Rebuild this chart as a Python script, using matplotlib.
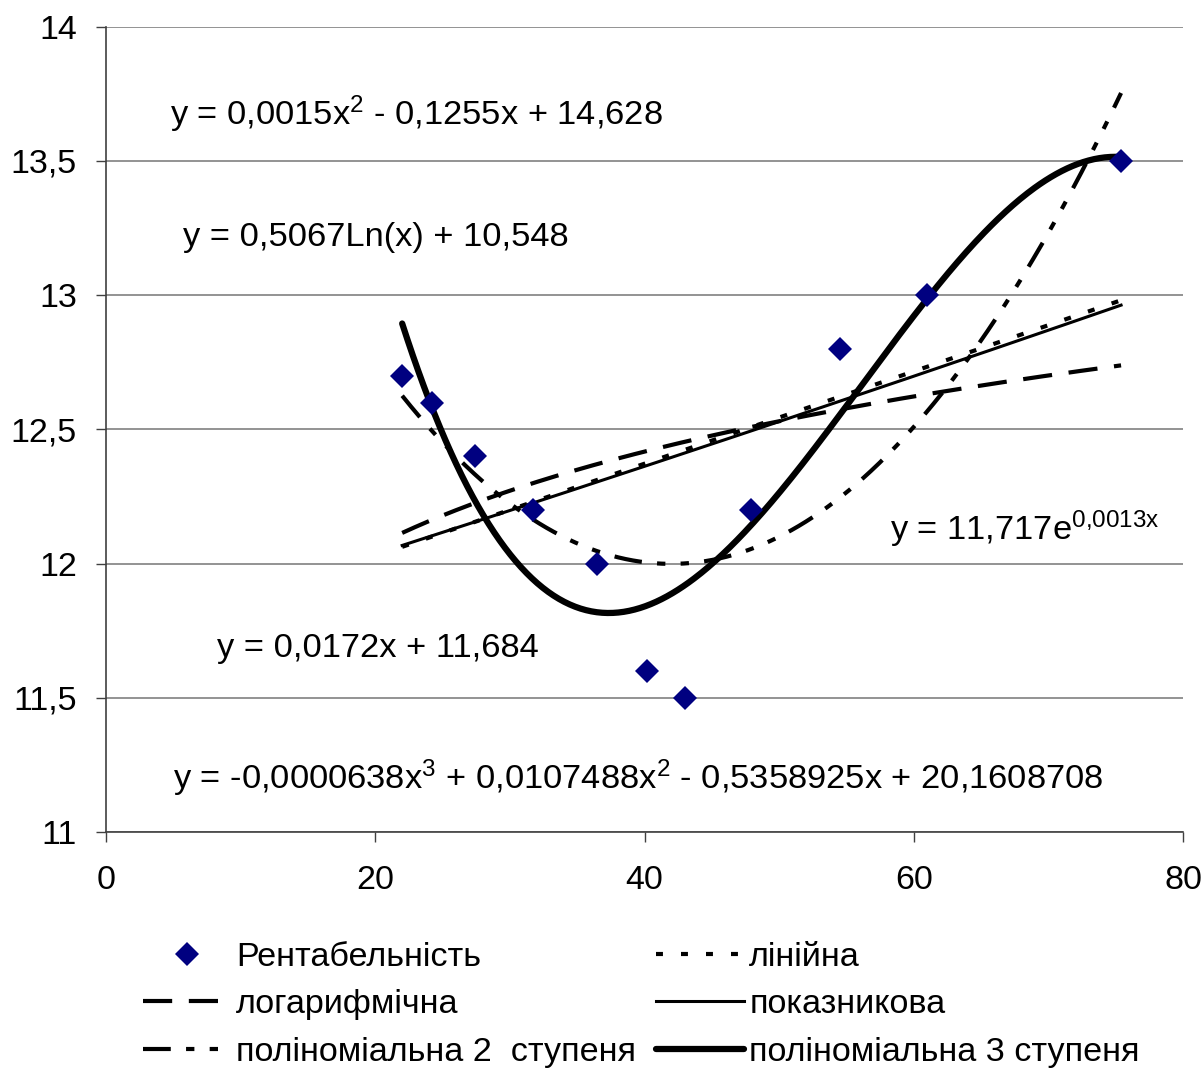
import numpy as np
import matplotlib
matplotlib.use("Agg")
import matplotlib.pyplot as plt
from matplotlib.lines import Line2D

plt.rcParams['font.family'] = ['Liberation Sans', 'DejaVu Sans']
plt.rcParams['mathtext.fontset'] = 'custom'
plt.rcParams['mathtext.rm'] = 'Liberation Sans'
plt.rcParams['mathtext.it'] = 'Liberation Sans'
plt.rcParams['lines.scale_dashes'] = False

# ---- data ----
x_data = [22.0, 24.2, 27.4, 31.7, 36.5, 40.2, 43.0, 47.9, 54.5, 61.0, 75.4]
y_data = [12.7, 12.6, 12.4, 12.2, 12.0, 11.6, 11.5, 12.2, 12.8, 13.0, 13.5]

# trendline coefficients
lin_coef = [0.0172, 11.684]                  # y = a x + b
log_coef = [0.5067, 10.548]                  # y = a ln(x) + b
exp_coef = [11.717, 0.00134]                 # y = a e^(b x)
quad_coef = [0.00157, -0.1318, 14.765]       # y = a x^2 + b x + c
cubic_coef = [-0.0000638, 0.0107488, -0.5358925, 20.1608708]

x_ticks = [0, 20, 40, 60, 80]
x_ticklabels = ['0', '20', '40', '60', '80']
y_ticks = [11, 11.5, 12, 12.5, 13, 13.5, 14]
y_ticklabels = ['11', '11,5', '12', '12,5', '13', '13,5', '14']

series_label = 'Рентабельність'
trend_labels = ['лінійна', 'логарифмічна', 'показникова',
                'поліноміальна 2  ступеня', 'поліноміальна 3 ступеня']

eq_texts = [
    (4.75, 13.634, 'y = 0,0015x$^{2}$ - 0,1255x + 14,628'),
    (5.72, 13.183, 'y = 0,5067Ln(x) + 10,548'),
    (58.24, 12.088, 'y = 11,717e$^{0{,}0013x}$'),
    (8.24, 11.652, 'y = 0,0172x + 11,684'),
    (4.98, 11.160, 'y = -0,0000638x$^{3}$ + 0,0107488x$^{2}$ - 0,5358925x + 20,1608708'),
]

# ---- figure ----
fig = plt.figure(figsize=(12.04, 10.68), dpi=100)
ax = fig.add_axes([106/1204, 1-832/1068, (1183-106)/1204, (832-26.7)/1068])

xs = np.linspace(min(x_data), max(x_data), 400)
y_lin = np.polyval(lin_coef, xs)
y_log = log_coef[0]*np.log(xs) + log_coef[1]
y_exp = exp_coef[0]*np.exp(exp_coef[1]*xs)
y_quad = np.polyval(quad_coef, xs)
y_cub = np.polyval(cubic_coef, xs)

thin = 3.0
st_lin = dict(color='black', lw=thin, linestyle=(0, (5, 13)))
st_log = dict(color='black', lw=thin, linestyle=(0, (21, 12)))
st_exp = dict(color='black', lw=2.2, linestyle='-')
st_quad = dict(color='black', lw=thin, linestyle=(0, (20, 11, 6, 11, 6, 11)))
st_cub = dict(color='black', lw=4.5, linestyle='-', solid_capstyle='round')

ax.plot(xs, y_lin, **st_lin, zorder=3)
ax.plot(xs, y_log, **st_log, zorder=3)
ax.plot(xs, y_exp, **st_exp, zorder=3)
ax.plot(xs, y_quad, **st_quad, zorder=3)
ax.plot(xs, y_cub, **st_cub, zorder=3)
ax.plot(x_data, y_data, linestyle='none', marker='D', ms=12, color='#000080',
        markeredgewidth=0, zorder=4)

for tx, ty, s in eq_texts:
    ax.text(tx, ty, s, fontsize=24.8, ha='left', va='baseline', color='black', zorder=5)

ax.set_xlim(0, 80)
ax.set_ylim(11, 14)
ax.set_xticks(x_ticks)
ax.set_xticklabels(x_ticklabels)
ax.set_yticks(y_ticks)
ax.set_yticklabels(y_ticklabels)
ax.tick_params(axis='both', labelsize=24.5, length=7, width=1, color='#404040', direction='out')
ax.tick_params(axis='y', pad=14)
ax.tick_params(axis='x', pad=17)
ax.yaxis.grid(True, color='#808080', lw=1.2)
ax.set_axisbelow(True)
for sp in ['top', 'right']:
    ax.spines[sp].set_visible(False)
for sp in ['left', 'bottom']:
    ax.spines[sp].set_color('#404040')
    ax.spines[sp].set_linewidth(1.2)

# ---- legend ----
h_series = Line2D([], [], linestyle='none', marker='D', ms=12, color='#000080', markeredgewidth=0)
h_lin = Line2D([], [], **st_lin)
h_log = Line2D([], [], **st_log)
h_exp = Line2D([], [], **st_exp)
h_quad = Line2D([], [], **st_quad)
h_cub = Line2D([], [], **st_cub)
handles = [h_series, h_log, h_quad, h_lin, h_exp, h_cub]
labels = [series_label, trend_labels[1], trend_labels[3],
          trend_labels[0], trend_labels[2], trend_labels[4]]
fig.legend(handles, labels, ncol=2, loc='upper left',
           bbox_to_anchor=(143/1204, 1-942/1068), frameon=False,
           fontsize=24.6, handlelength=2.55, handletextpad=0.17,
           columnspacing=0.6, labelspacing=0.48, borderpad=0, borderaxespad=0)

fig.savefig('out.png', dpi=100)
